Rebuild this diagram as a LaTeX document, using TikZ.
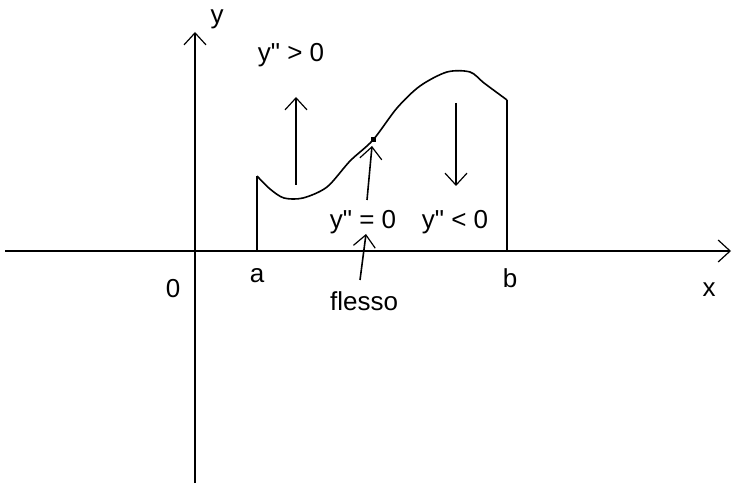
\documentclass[tikz,border=0pt]{standalone}
\usepackage{fontspec}
\setmainfont{Liberation Sans}[Ligatures=TeXOff]
\usetikzlibrary{arrows.meta}
\begin{document}
\begin{tikzpicture}[x=1bp,y=-1bp,
  lbl/.style={font=\fontsize{26bp}{30bp}\selectfont, inner sep=0pt, anchor=base},
  ln/.style={line width=1.6bp, line join=round},
  arr/.style={ln, -{Straight Barb[length=12bp,width=22bp,line width=1.2bp]}}]
\fill[white] (0,0) rectangle (735,487);
\useasboundingbox (0,0) rectangle (735,487);
% axes
\coordinate (xl) at (5,251); \coordinate (xr) at (731,251);
\coordinate (yb) at (195,483); \coordinate (yt) at (195,32);
\draw[arr] (xl) -- (xr);
\draw[arr] (yb) -- (yt);
% curve points
\coordinate (a0) at (257,251); \coordinate (a1) at (257,176);
\coordinate (b0) at (507,251); \coordinate (b1) at (507,100);
\coordinate (fl) at (373,140);
\draw[ln] (a0) -- (a1);
\draw[ln] plot[smooth, tension=0.5] coordinates {(257,176) (270,189) (284,198) (303,198) (327,187) (350,161) (373,140) (397,108) (420,86) (447,72) (470,72) (484,83) (507,100)};
\draw[ln] (b1) -- (b0);
\node[fill, inner sep=0pt, minimum size=5bp] (dot) at (fl) {};
% arrows
\coordinate (u0) at (296,185); \coordinate (u1) at (296,97);
\coordinate (d0) at (456,103); \coordinate (d1) at (456,186);
\coordinate (i0) at (367,200); \coordinate (i1) at (372,146);
\coordinate (f0) at (360,280); \coordinate (f1) at (366,234);
\draw[arr] (u0) -- (u1);
\draw[arr] (d0) -- (d1);
\draw[arr] (i0) -- (i1);
\draw[arr] (f0) -- (f1);
% labels
\node[lbl] (ylab) at (217,24) {y};
\node[lbl] (xlab) at (709,296) {x};
\node[lbl] (olab) at (173,297) {0};
\node[lbl] (alab) at (257,283) {a};
\node[lbl] (blab) at (510,288) {b};
\node[lbl] (pos) at (291,62) {y" > 0};
\node[lbl] (zer) at (363,229) {y" = 0};
\node[lbl] (neg) at (455,229) {y" < 0};
\node[lbl] (fls) at (364,310) {flesso};
\end{tikzpicture}
\end{document}
